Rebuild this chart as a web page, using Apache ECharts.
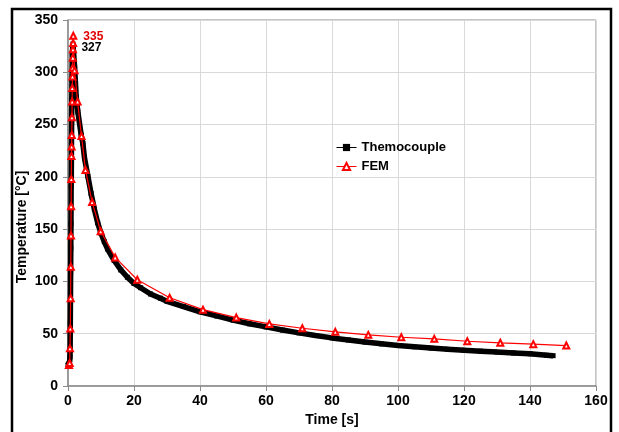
<!DOCTYPE html>
<html>
<head>
<meta charset="utf-8">
<script src="https://cdn.jsdelivr.net/npm/echarts@6/dist/echarts.min.js"></script>
<style>html,body{margin:0;padding:0;background:#fff}#c{width:619px;height:432px}</style>
</head>
<body>
<div id="c"></div>
<script>
// Thermocouple (measured) data
var tcTime = [0, 0.3, 0.5, 0.6, 0.65, 0.7, 0.75, 0.8, 0.85, 0.9, 0.95, 1.0, 1.05, 1.1, 1.15, 1.2, 1.3, 1.5, 2, 2.5, 3, 4, 4.5, 5, 6, 7, 8, 9, 10, 11, 12, 14, 16, 18, 20, 22, 25, 28, 30, 35, 40, 45, 50, 55, 60, 65, 70, 75, 80, 85, 90, 95, 100, 105, 110, 115, 120, 125, 130, 135, 140, 145, 147];
var tcTemp = [20, 21, 24, 28, 34, 60, 85, 109, 132, 155, 191, 198, 230, 253, 274, 293, 318, 327, 305, 276, 262, 240, 232, 218, 201, 184, 169, 156, 146, 138, 131, 120, 111, 104, 98, 94, 88, 84, 81, 76, 71, 67, 63, 59.5, 56.5, 53.5, 50.8, 48.3, 46, 44, 42, 40.3, 38.8, 37.5, 36.3, 35.2, 34.2, 33.3, 32.4, 31.6, 30.8, 29.5, 29];
// FEM (simulated) data
var femTime = [0.3, 0.5, 0.6, 0.7, 0.8, 0.85, 0.9, 0.95, 1.0, 1.05, 1.1, 1.15, 1.2, 1.25, 1.3, 1.35, 1.4, 1.45, 1.5, 1.55, 1.6, 2.0, 2.9, 4.1, 5.3, 7.3, 9.9, 14.3, 21, 30.8, 40.9, 51, 61, 71, 81, 91, 101, 111, 121, 131, 141, 151];
var femTemp = [20, 22, 36, 55, 84, 114, 144, 172, 198, 220, 229, 240, 257, 272, 285, 296, 304, 314, 322, 328, 335, 302, 272, 239, 206.5, 176, 148, 123, 101.6, 84.4, 73, 65.4, 59.4, 55.2, 51.8, 48.9, 46.6, 45.1, 42.8, 41.3, 40, 38.7];
var xTicks = [0, 20, 40, 60, 80, 100, 120, 140, 160];
var yTicks = [0, 50, 100, 150, 200, 250, 300, 350];

function build(ts, vs, labelColor, offset) {
  var maxI = 0;
  for (var i = 0; i < vs.length; i++) if (vs[i] > vs[maxI]) maxI = i;
  return ts.map(function (t, i) {
    var d = { value: [t, vs[i]] };
    if (i === maxI) {
      d.label = {
        show: true, position: 'right', distance: 6, offset: offset,
        formatter: String(vs[i]),
        color: labelColor, fontWeight: 'bold', fontSize: 12,
        fontFamily: 'Liberation Sans, Arial, sans-serif'
      };
    }
    return d;
  });
}

var font = 'Liberation Sans, Arial, sans-serif';
var chart = echarts.init(document.getElementById('c'), null, { renderer: 'canvas' });
chart.setOption({
  animation: false,
  backgroundColor: '#fff',
  grid: { left: 68, right: 23, top: 20, bottom: 43, show: true, borderColor: '#8a8a8a', borderWidth: 1, backgroundColor: 'transparent' },
  legend: {
    orient: 'vertical', left: 331, top: 136, itemWidth: 20, itemHeight: 9, itemGap: 6,
    textStyle: { fontFamily: font, fontWeight: 'bold', fontSize: 13, color: '#000' },
    data: [
      { name: 'Themocouple', lineStyle: { width: 1, color: '#000' }, itemStyle: { color: '#000' } },
      { name: 'FEM', lineStyle: { width: 1, color: '#ff0000' } }
    ]
  },
  xAxis: {
    type: 'value', min: xTicks[0], max: xTicks[xTicks.length - 1], interval: 20,
    name: 'Time [s]', nameLocation: 'middle', nameGap: 27,
    nameTextStyle: { fontFamily: font, fontWeight: 'bold', fontSize: 14, color: '#000' },
    axisLine: { show: true, lineStyle: { color: '#8a8a8a', width: 1.5 } },
    axisTick: { show: true, length: 5, lineStyle: { color: '#8a8a8a' } },
    axisLabel: { fontFamily: font, fontWeight: 'bold', fontSize: 14, color: '#000', margin: 8 },
    splitLine: { show: true, lineStyle: { color: '#d9d9d9', width: 1 } }
  },
  yAxis: {
    type: 'value', min: yTicks[0], max: yTicks[yTicks.length - 1], interval: 50,
    axisLine: { show: true, lineStyle: { color: '#8a8a8a', width: 1.5 } },
    axisTick: { show: true, length: 5, lineStyle: { color: '#8a8a8a' } },
    axisLabel: { fontFamily: font, fontWeight: 'bold', fontSize: 14, color: '#000', margin: 10 },
    splitLine: { show: true, lineStyle: { color: '#d9d9d9', width: 1 } }
  },
  graphic: [
    { type: 'rect', shape: { x: 12, y: 9, width: 599, height: 440 }, style: { fill: 'none', stroke: '#000', lineWidth: 2.5 }, silent: true, z: 100 },
    { type: 'text', x: 22, y: 227, rotation: Math.PI / 2,
      style: { text: 'Temperature [°C]', fontFamily: font, fontWeight: 'bold', fontSize: 14, fill: '#000', textAlign: 'center', textVerticalAlign: 'middle' } }
  ],
  series: [
    {
      name: 'Themocouple', type: 'line', data: build(tcTime, tcTemp, '#000', [0, 4]),
      symbol: 'rect', symbolSize: 5, showAllSymbol: true,
      lineStyle: { color: '#000', width: 5.5 }, itemStyle: { color: '#000' }, z: 2
    },
    {
      name: 'FEM', type: 'line', data: build(femTime, femTemp, '#e00000', [0, 1]),
      symbol: 'emptyTriangle', symbolSize: 6, showAllSymbol: true,
      lineStyle: { color: '#ff0000', width: 1.2 }, itemStyle: { color: '#ff0000', borderColor: '#ff2020', borderWidth: 1 }, z: 3
    }
  ]
});
</script>
</body>
</html>
